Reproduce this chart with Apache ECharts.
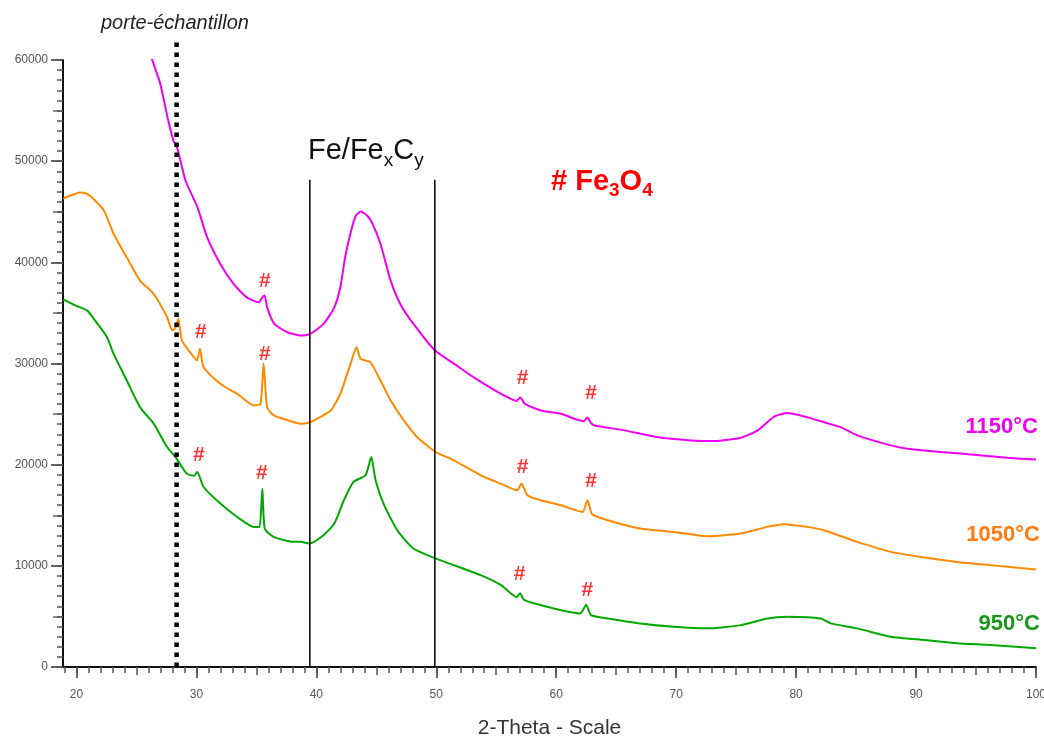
<!DOCTYPE html>
<html>
<head>
<meta charset="utf-8">
<script src="https://cdn.jsdelivr.net/npm/echarts@6/dist/echarts.min.js"></script>
<style>
html,body{margin:0;padding:0;background:#fff;}
#chart{width:1044px;height:740px;}
</style>
</head>
<body>
<div id="chart"></div>
<script>
// ---- data (2-theta in degrees, counts) ----
const theta1150 = [26.2, 26.3, 27.0, 27.6, 28.1, 28.4, 29.1, 30.1, 30.9, 32.0, 33.1, 34.2, 35.2, 35.5, 35.7, 35.9, 36.5, 37.6, 38.7, 39.5, 40.6, 41.5, 42.0, 42.4, 42.9, 43.3, 43.7, 44.25, 44.7, 45.35, 46.2, 47.0, 48.1, 49.9, 51.5, 53.1, 55.4, 56.7, 57.0, 57.4, 58.7, 60.4, 61.5, 62.3, 62.6, 62.9, 63.2, 65.7, 68.4, 71.2, 73.2, 75.4, 76.8, 78.2, 79.3, 80.9, 82.3, 83.7, 85.1, 87.9, 89.3, 92.1, 94.8, 97.6, 100];
const counts1150 = [61000, 60100, 57600, 54300, 52000, 51350, 48060, 45420, 42460, 39840, 37860, 36540, 36050, 36540, 36710, 35550, 33910, 33090, 32760, 32930, 33910, 35550, 37530, 40490, 43120, 44600, 45030, 44600, 43780, 41810, 38190, 35890, 33910, 31280, 29970, 28650, 27000, 26300, 26650, 26000, 25360, 25030, 24540, 24300, 24650, 24100, 23880, 23390, 22730, 22400, 22330, 22670, 23390, 24770, 25100, 24700, 24210, 23710, 22900, 21910, 21580, 21250, 20990, 20690, 20500];

const theta1050 = [18.9, 19.5, 20.3, 20.8, 21.3, 22.3, 23.1, 24.2, 25.3, 26.45, 27.56, 28.0, 28.3, 28.5, 28.8, 29.8, 30.05, 30.3, 30.6, 32.0, 33.4, 34.8, 35.35, 35.6, 35.9, 36.45, 38.1, 38.7, 39.25, 39.8, 41.2, 42.0, 42.85, 43.35, 43.7, 44.5, 45.35, 46.2, 47.3, 48.4, 49.94, 51.47, 53.7, 55.36, 56.75, 57.1, 57.6, 58.7, 60.4, 62.2, 62.6, 63.0, 64.3, 67.0, 69.8, 72.6, 75.4, 77.6, 79.0, 80.9, 82.3, 85.1, 87.9, 90.7, 93.45, 96.2, 100];
const counts1050 = [46300, 46600, 46900, 46800, 46410, 45100, 42800, 40490, 38190, 36870, 34570, 33260, 33600, 34410, 32270, 30620, 30300, 31450, 29630, 27990, 27000, 25850, 26020, 30000, 25690, 24870, 24210, 24050, 24110, 24370, 25360, 27010, 29970, 31610, 30460, 30130, 28320, 26350, 24370, 22730, 21250, 20430, 18950, 18130, 17470, 18130, 16970, 16480, 15990, 15330, 16480, 15100, 14510, 13690, 13350, 12930, 13190, 13850, 14110, 13850, 13520, 12370, 11380, 10820, 10390, 10070, 9640];

const theta950 = [18.9, 19.1, 20.0, 20.9, 21.45, 22.55, 23.1, 24.2, 25.3, 26.45, 27.56, 28.26, 29.2, 29.8, 30.07, 30.6, 32.0, 33.4, 34.8, 35.26, 35.5, 35.7, 36.45, 38.1, 38.7, 39.4, 40.6, 41.5, 42.3, 43.1, 44.1, 44.58, 44.94, 45.6, 46.75, 48.1, 49.94, 51.47, 53.7, 55.4, 56.7, 57.0, 57.3, 58.7, 62.0, 62.5, 62.9, 64.3, 67.0, 69.8, 72.6, 75.4, 77.6, 79.3, 82.05, 82.9, 85.1, 87.9, 90.7, 93.45, 96.2, 100];
const counts950 = [36300, 36220, 35700, 35230, 34410, 32600, 30950, 28320, 25690, 24050, 21740, 20750, 19110, 18900, 19270, 17790, 16150, 14830, 13840, 13840, 17630, 13690, 12860, 12370, 12370, 12210, 13030, 14180, 16480, 18290, 18950, 20750, 18450, 16150, 13520, 11710, 10730, 10070, 9080, 8090, 6900, 7300, 6650, 6120, 5300, 6120, 5130, 4800, 4310, 3980, 3820, 4140, 4800, 4960, 4800, 4310, 3820, 2990, 2660, 2340, 2170, 1850];

// Fe3O4 "#" markers (2-theta, counts where the symbol sits)
const hashTheta  = [35.7, 30.37, 35.7, 30.2, 35.45, 57.2, 62.9, 57.2, 62.9, 56.95, 62.6];
const hashCounts = [38180, 33130, 30960, 20970, 19190, 28580, 27100, 19780, 18400, 9200, 7620];

// reference lines
const sampleHolderTheta = 28.35;
const feRangeTheta = [39.46, 49.88];
const feLineTop = 48160;
const sampleHolderTop = 61800;

// axis ticks
const xMajorTicks = [20, 30, 40, 50, 60, 70, 80, 90, 100];
const xMidTicks = [25, 35, 45, 55, 65, 75, 85, 95];
const xMinorTicks = [];
for (let v = 19; v <= 100; v++) xMinorTicks.push(v);

const pairs = (xs, ys) => xs.map((x, i) => [x, ys[i]]);

const X_MIN = 18.88, X_MAX = 100;
const FONT = '"Liberation Sans", Arial, sans-serif';

const chart = echarts.init(document.getElementById('chart'), null, {renderer: 'canvas'});

const baseX = {type: 'value', min: X_MIN, max: X_MAX, gridIndex: 0, position: 'bottom', splitLine: {show: false}};
const baseY = {type: 'value', min: 0, max: 60000, gridIndex: 0, position: 'left', splitLine: {show: false}};

const curveSmooth = 0.2;

const option = {
  animation: false,
  backgroundColor: '#ffffff',
  grid: {left: 63, right: 8, top: 60, bottom: 73, containLabel: false, outerBoundsMode: 'none'},
  xAxis: [
    Object.assign({}, baseX, {
      axisLine: {show: true, lineStyle: {color: '#111', width: 2}},
      axisTick: {show: true, customValues: xMajorTicks, length: 11, lineStyle: {color: '#333', width: 1.5}},
      axisLabel: {show: true, customValues: xMajorTicks, margin: 22, color: '#555', fontSize: 12, fontFamily: FONT},
      name: '2-Theta - Scale', nameLocation: 'middle', nameGap: 51,
      nameTextStyle: {fontSize: 21, color: '#333', fontFamily: FONT}
    }),
    Object.assign({}, baseX, {
      axisLine: {show: false},
      axisTick: {show: true, customValues: xMidTicks, length: 8, lineStyle: {color: '#555', width: 1.5}},
      axisLabel: {show: false}
    }),
    Object.assign({}, baseX, {
      axisLine: {show: false},
      axisTick: {show: true, customValues: xMinorTicks, length: 6, lineStyle: {color: '#555', width: 1.5}},
      axisLabel: {show: false}
    })
  ],
  yAxis: [
    Object.assign({}, baseY, {
      interval: 10000,
      axisLine: {show: true, lineStyle: {color: '#111', width: 2}},
      axisTick: {show: true, length: 12, lineStyle: {color: '#333', width: 1.5}},
      axisLabel: {show: true, margin: 15, color: '#555', fontSize: 12, fontFamily: FONT,
                  formatter: (v) => String(v)}
    }),
    Object.assign({}, baseY, {
      interval: 5000,
      axisLine: {show: false},
      axisTick: {show: true, length: 10, lineStyle: {color: '#666', width: 1.5}},
      axisLabel: {show: false}
    }),
    Object.assign({}, baseY, {
      interval: 1000,
      axisLine: {show: false},
      axisTick: {show: true, length: 6, lineStyle: {color: '#555', width: 1.5}},
      axisLabel: {show: false}
    })
  ],
  series: [
    {
      name: '950°C', type: 'line', xAxisIndex: 0, yAxisIndex: 0, symbol: 'none', clip: true,
      smooth: curveSmooth,
      data: pairs(theta950, counts950),
      lineStyle: {color: '#00a800', width: 2}, z: 3
    },
    {
      name: '1050°C', type: 'line', xAxisIndex: 0, yAxisIndex: 0, symbol: 'none', clip: true,
      smooth: curveSmooth,
      data: pairs(theta1050, counts1050),
      lineStyle: {color: '#ff8a00', width: 2}, z: 3
    },
    {
      name: '1150°C', type: 'line', xAxisIndex: 0, yAxisIndex: 0, symbol: 'none', clip: true,
      smooth: curveSmooth,
      data: pairs(theta1150, counts1150),
      lineStyle: {color: '#f000f0', width: 2}, z: 3
    },
    {
      name: 'Fe left', type: 'line', symbol: 'none', clip: false,
      data: [[feRangeTheta[0], 0], [feRangeTheta[0], feLineTop]],
      lineStyle: {color: '#000', width: 1.5}, z: 4
    },
    {
      name: 'Fe right', type: 'line', symbol: 'none', clip: false,
      data: [[feRangeTheta[1], 0], [feRangeTheta[1], feLineTop]],
      lineStyle: {color: '#000', width: 1.5}, z: 4
    },
    {
      name: 'porte-échantillon', type: 'line', symbol: 'none', clip: false,
      data: [[sampleHolderTheta, 0], [sampleHolderTheta, sampleHolderTop]],
      lineStyle: {color: '#000', width: 4.5, type: [4.5, 5.5], cap: 'butt'}, z: 5
    },
    {
      name: 'Fe3O4', type: 'scatter', symbol: 'circle', symbolSize: 1,
      itemStyle: {color: 'rgba(0,0,0,0)'},
      data: pairs(hashTheta, hashCounts),
      label: {show: true, position: 'inside', formatter: '#', color: '#ff0000',
              fontSize: 21, fontWeight: 'bold', fontFamily: FONT},
      z: 6
    }
  ],
  graphic: [
    {type: 'text', left: 101, top: 13, z: 10,
     style: {text: 'porte-échantillon', font: 'italic 20px ' + FONT, fill: '#222'}},
    {type: 'text', left: 308, top: 136, z: 10,
     style: {text: '{m|Fe/Fe}{s|x}{m|C}{s|y}', fill: '#111',
       rich: {
         m: {fontSize: 29, fontFamily: FONT, lineHeight: 40, verticalAlign: 'middle', fill: '#111'},
         s: {fontSize: 19, fontFamily: FONT, lineHeight: 19, verticalAlign: 'bottom', fill: '#111'}
       }}},
    {type: 'text', left: 551, top: 167, z: 10,
     style: {text: '{b|# Fe}{s|3}{b|O}{s|4}', fill: '#ff0000',
       rich: {
         b: {fontSize: 29, fontWeight: 'bold', fontFamily: FONT, lineHeight: 38, verticalAlign: 'middle', fill: '#ff0000'},
         s: {fontSize: 19, fontWeight: 'bold', fontFamily: FONT, lineHeight: 19, verticalAlign: 'bottom', fill: '#ff0000'}
       }}},
    {type: 'text', right: 6, top: 416, z: 10,
     style: {text: '1150°C', font: 'bold 22px ' + FONT, fill: '#f000f0'}},
    {type: 'text', right: 4, top: 524, z: 10,
     style: {text: '1050°C', font: 'bold 22px ' + FONT, fill: '#ff7a10'}},
    {type: 'text', right: 4, top: 613, z: 10,
     style: {text: '950°C', font: 'bold 22px ' + FONT, fill: '#1a961a'}}
  ]
};

chart.setOption(option);
</script>
</body>
</html>
